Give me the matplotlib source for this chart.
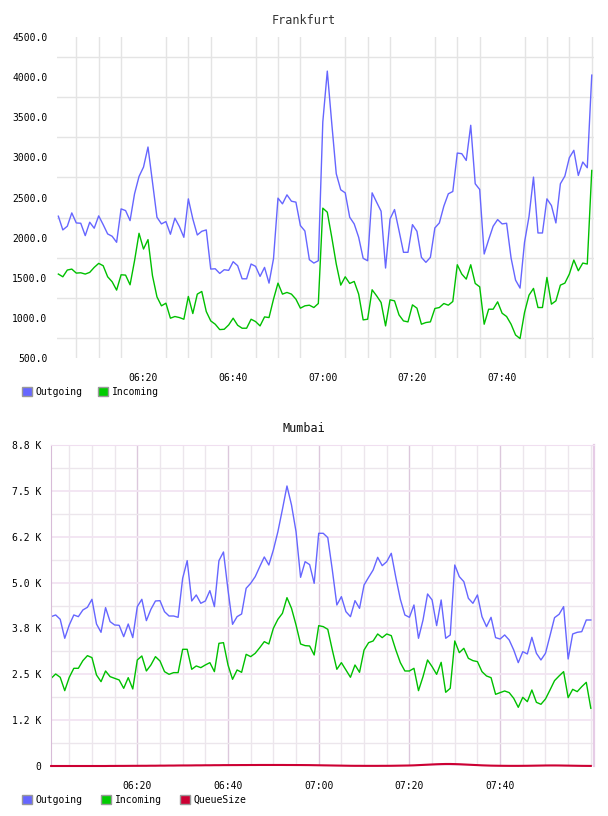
import numpy as np
import pandas as pd
import matplotlib
matplotlib.use("Agg")
import matplotlib.pyplot as plt
import matplotlib.dates as mdates
from matplotlib.patches import Patch
from matplotlib.ticker import FixedLocator, FuncFormatter

plt.rcParams['font.family'] = ['DejaVu Sans Mono']

# one sample per minute, 06:01 .. 08:00
times = pd.date_range("2024-01-01 06:01", periods=120, freq="min")
tick_labels = ["06:20", "06:40", "07:00", "07:20", "07:40"]

fra_out = [2267, 2096, 2142, 2308, 2183, 2179, 2025, 2192, 2117, 2271,
           2162, 2046, 2017, 1942, 2358, 2337, 2212, 2546, 2762, 2879,
           3129, 2692, 2254, 2171, 2200, 2042, 2242, 2138, 2004, 2483,
           2233, 2033, 2079, 2096, 1608, 1612, 1554, 1600, 1592, 1700,
           1650, 1487, 1487, 1671, 1642, 1517, 1629, 1433, 1737, 2492,
           2421, 2533, 2454, 2442, 2150, 2083, 1725, 1683, 1712, 3442,
           4075, 3421, 2796, 2596, 2558, 2254, 2171, 2004, 1742, 1712,
           2558, 2442, 2329, 1621, 2233, 2350, 2087, 1817, 1817, 2162,
           2079, 1754, 1692, 1754, 2121, 2183, 2392, 2546, 2575, 3054,
           3046, 2962, 3400, 2671, 2600, 1796, 1975, 2142, 2225, 2171,
           2179, 1746, 1471, 1371, 1942, 2262, 2754, 2058, 2058, 2483,
           2400, 2183, 2671, 2767, 2996, 3088, 2775, 2942, 2871, 4025]
fra_in = [1546, 1512, 1596, 1608, 1558, 1562, 1546, 1567, 1629, 1679,
          1650, 1512, 1450, 1346, 1537, 1533, 1412, 1712, 2054, 1858,
          1975, 1525, 1262, 1150, 1183, 996, 1017, 1004, 983, 1267,
          1054, 1296, 1329, 1079, 962, 921, 854, 858, 912, 996,
          908, 871, 871, 983, 954, 900, 1012, 1004, 1233, 1433,
          1296, 1317, 1296, 1233, 1121, 1150, 1158, 1129, 1179, 2367,
          2317, 2004, 1671, 1408, 1512, 1429, 1454, 1296, 975, 983,
          1350, 1275, 1192, 900, 1225, 1212, 1037, 962, 950, 1162,
          1121, 921, 942, 950, 1117, 1129, 1179, 1158, 1204, 1662,
          1546, 1483, 1662, 1429, 1387, 921, 1108, 1108, 1200, 1058,
          1017, 921, 787, 742, 1067, 1283, 1367, 1129, 1129, 1504,
          1171, 1212, 1408, 1433, 1546, 1721, 1587, 1683, 1671, 2837]

mum_out = [4071, 4117, 3999, 3481, 3844, 4117, 4071, 4253, 4326, 4544,
           3871, 3644, 4317, 3935, 3844, 3835, 3526, 3871, 3499, 4344,
           4544, 3962, 4271, 4498, 4507, 4207, 4089, 4089, 4053, 5116,
           5598, 4498, 4662, 4435, 4498, 4780, 4344, 5598, 5834, 4798,
           3862, 4071, 4144, 4844, 4980, 5162, 5434, 5698, 5479, 5888,
           6388, 6997, 7633, 7115, 6388, 5143, 5570, 5489, 4980, 6343,
           6343, 6225, 5343, 4389, 4616, 4207, 4071, 4507, 4298, 4934,
           5143, 5343, 5688, 5461, 5570, 5798, 5143, 4544, 4117, 4053,
           4389, 3481, 3980, 4689, 4526, 3826, 4526, 3481, 3572, 5479,
           5162, 5025, 4571, 4435, 4662, 4071, 3799, 4053, 3499, 3462,
           3572, 3435, 3162, 2817, 3117, 3054, 3508, 3072, 2890, 3072,
           3553, 4044, 4135, 4344, 2917, 3599, 3644, 3662, 3980, 3980]
mum_in = [2390, 2508, 2418, 2054, 2418, 2663, 2663, 2872, 3008, 2954,
          2481, 2299, 2590, 2436, 2390, 2345, 2118, 2408, 2100, 2890,
          2999, 2590, 2754, 2981, 2863, 2572, 2499, 2545, 2545, 3181,
          3181, 2636, 2727, 2681, 2754, 2817, 2572, 3344, 3362, 2754,
          2363, 2618, 2554, 3044, 2981, 3072, 3226, 3390, 3326, 3753,
          3999, 4162, 4589, 4298, 3844, 3326, 3281, 3272, 3026, 3826,
          3799, 3726, 3162, 2636, 2817, 2618, 2418, 2754, 2554, 3162,
          3362, 3408, 3599, 3499, 3599, 3553, 3162, 2817, 2590, 2590,
          2663, 2054, 2436, 2890, 2708, 2499, 2826, 2009, 2118, 3408,
          3090, 3208, 2935, 2872, 2845, 2572, 2454, 2408, 1954, 2000,
          2045, 2000, 1845, 1600, 1872, 1754, 2072, 1736, 1682, 1827,
          2072, 2327, 2454, 2572, 1863, 2090, 2027, 2163, 2281, 1573]
mum_queue = [0, 0, 0, 0, 0, 0, 0, 0, 0, 0,
             0, 0, 0, 2, 2, 3, 3, 4, 5, 5,
             6, 6, 8, 8, 10, 10, 12, 12, 14, 15,
             15, 16, 18, 18, 20, 20, 22, 22, 24, 24,
             25, 25, 26, 26, 27, 27, 28, 28, 28, 28,
             28, 28, 27, 27, 26, 26, 25, 24, 22, 20,
             18, 16, 14, 12, 10, 8, 6, 5, 5, 4,
             4, 4, 4, 5, 5, 6, 8, 10, 12, 14,
             18, 24, 30, 36, 42, 48, 52, 55, 55, 52,
             48, 42, 36, 30, 24, 18, 14, 10, 8, 6,
             5, 4, 4, 4, 5, 6, 8, 10, 12, 14,
             15, 15, 14, 12, 10, 8, 6, 4, 3, 2]

c_out = '#6666ff'
c_in = '#00c000'
c_queue = '#cc0033'

day = "2024-01-01 "
ticks = pd.to_datetime([day + s for s in tick_labels])
t0 = pd.Timestamp(day + "06:00")

fig = plt.figure(figsize=(6.08, 8.16), dpi=100)

# ---------------- Frankfurt ----------------
ax1 = fig.add_axes([57/608, 1 - 358/816, 537/608, 321/816])
ax1.plot(times, fra_out, color=c_out, lw=1.0)
ax1.plot(times, fra_in, color=c_in, lw=1.0)
ax1.set_xlim(t0 + pd.Timedelta(minutes=0.7), t0 + pd.Timedelta(minutes=120.5))
ax1.set_ylim(500, 4500)
ax1.set_yticks(np.arange(500, 4501, 500))
ax1.yaxis.set_major_formatter(FuncFormatter(lambda v, p: f"{v:.1f}"))
ax1.yaxis.set_minor_locator(FixedLocator(np.arange(750, 4500, 500)))
ax1.set_xticks(ticks)
ax1.set_xticklabels(tick_labels)
ax1.xaxis.set_minor_locator(mdates.MinuteLocator(byminute=range(0, 60, 5)))
ax1.grid(False)
ax1.grid(which='minor', color='#e4e4e4', lw=1.0)
for s in ax1.spines.values():
    s.set_visible(False)
ax1.tick_params(which='both', length=0, labelsize=7)
ax1.tick_params(axis='y', pad=7)
ax1.tick_params(axis='x', pad=11)
fig.text(304/608, 1 - 20/816, "Frankfurt", ha='center', va='center',
         fontsize=8.5, color='#333333')

fig.legend(handles=[Patch(facecolor=c_out, edgecolor='#999999', label='Outgoing'),
                    Patch(facecolor='#00cc00', edgecolor='#999999', label='Incoming')],
           loc='center left', bbox_to_anchor=(22/608, 1 - 392/816), ncol=2,
           frameon=False, fontsize=7, handlelength=1.0, handleheight=1.0,
           handletextpad=0.4, columnspacing=1.6, borderpad=0, borderaxespad=0)

# ---------------- Mumbai ----------------
ax2 = fig.add_axes([51/608, 1 - 766/816, 543/608, 321/816])
ax2.plot(times, mum_out, color=c_out, lw=1.0)
ax2.plot(times, mum_in, color=c_in, lw=1.0)
ax2.plot(times, mum_queue, color=c_queue, lw=1.5, clip_on=False, zorder=5)
ax2.set_xlim(t0 + pd.Timedelta(minutes=0.97), t0 + pd.Timedelta(minutes=120.7))
ax2.set_ylim(0, 8750)
ax2.set_yticks(np.arange(0, 8751, 1250))
ax2.yaxis.set_major_formatter(FuncFormatter(lambda v, p: "0" if v == 0 else f"{v/1000:.1f} K"))
ax2.yaxis.set_minor_locator(FixedLocator(np.arange(625, 8750, 1250)))
ax2.set_xticks(ticks)
ax2.set_xticklabels(tick_labels)
ax2.xaxis.set_minor_locator(mdates.MinuteLocator(byminute=range(0, 60, 5)))
ax2.grid(which='minor', color='#ece6ec', lw=1.0)
ax2.grid(which='major', axis='y', color='#f2e4f2', lw=1.3)
ax2.grid(which='major', axis='x', color='#dcc8dc', lw=1.0)
ax2.set_axisbelow(True)
ax2.spines['left'].set_color('#d8bcd8')
ax2.spines['top'].set_color('#f0dff0')
ax2.spines['right'].set_color('#e6cce6')
ax2.spines['right'].set_linewidth(1.6)
ax2.spines['bottom'].set_visible(False)
ax2.tick_params(which='both', length=0, labelsize=7)
ax2.tick_params(axis='y', pad=7)
ax2.tick_params(axis='x', pad=11)
fig.text(304/608, 1 - 428/816, "Mumbai", ha='center', va='center',
         fontsize=8.5, color='#111111')

fig.legend(handles=[Patch(facecolor=c_out, edgecolor='#999999', label='Outgoing'),
                    Patch(facecolor='#00cc00', edgecolor='#999999', label='Incoming'),
                    Patch(facecolor=c_queue, edgecolor='#999999', label='QueueSize')],
           loc='center left', bbox_to_anchor=(22/608, 1 - 800/816), ncol=3,
           frameon=False, fontsize=7, handlelength=1.0, handleheight=1.0,
           handletextpad=0.4, columnspacing=1.9, borderpad=0, borderaxespad=0)

fig.savefig("out.png", dpi=100)
